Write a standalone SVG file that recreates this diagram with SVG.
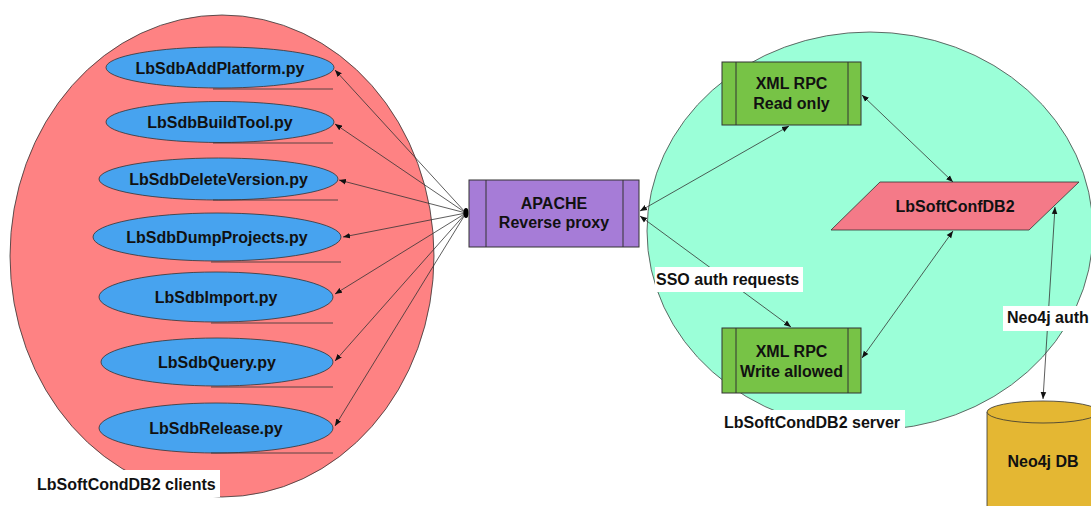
<svg xmlns="http://www.w3.org/2000/svg" width="1091" height="506" viewBox="0 0 1091 506">
<defs>
<style>
text{font-family:"Liberation Sans",Arial,sans-serif;font-weight:bold;font-size:16px;fill:#111;text-anchor:middle}
.lbl{text-anchor:start}
.client{fill:#47A3EF;stroke:#333;stroke-width:0.8}
.ul{stroke:#333;stroke-width:0.8}
.con{fill:none;stroke:#333;stroke-width:0.8}
.proc{stroke:#333;stroke-width:1}
.bg{fill:#fff}
</style>
<marker id="ah" viewBox="0 0 10 10" refX="10" refY="5" markerWidth="7" markerHeight="7" orient="auto-start-reverse" markerUnits="userSpaceOnUse">
<path d="M0,1 L10,5 L0,9 z" fill="#111"/>
</marker>
</defs>
<rect width="1091" height="506" fill="#fff"/>

<g id="clients-group">
<ellipse cx="222" cy="256" rx="212" ry="241" fill="#FE8283" stroke="#333" stroke-width="0.8"/>
<rect class="bg" x="31" y="470" width="189" height="27"/>
<text class="lbl" x="37" y="490">LbSoftCondDB2 clients</text>
</g>

<g id="server-group">
<ellipse cx="870" cy="231" rx="223" ry="199" fill="#9BFFD8" stroke="#444" stroke-width="0.8"/>
</g>

<g id="connectors">
<path class="con" d="M466,213 L335,70" marker-end="url(#ah)"/>
<path class="con" d="M466,213 L335,124" marker-end="url(#ah)"/>
<path class="con" d="M466,213 L339,180" marker-end="url(#ah)"/>
<path class="con" d="M466,213 L343,237" marker-end="url(#ah)"/>
<path class="con" d="M466,213 L335,294" marker-end="url(#ah)"/>
<path class="con" d="M466,213 L335,361" marker-end="url(#ah)"/>
<path class="con" d="M466,213 L335,426" marker-end="url(#ah)"/>
<ellipse cx="466" cy="213" rx="2.5" ry="5" fill="#000"/>
<path class="con" d="M640,211 L789,126" marker-start="url(#ah)" marker-end="url(#ah)"/>
<path class="con" d="M640,216 L791,327" marker-start="url(#ah)" marker-end="url(#ah)"/>
<path class="con" d="M862,95 L953,182" marker-start="url(#ah)" marker-end="url(#ah)"/>
<path class="con" d="M953,231 L862,358" marker-start="url(#ah)" marker-end="url(#ah)"/>
<path class="con" d="M1055,207 L1043,399" marker-start="url(#ah)" marker-end="url(#ah)"/>
<rect class="bg" x="655" y="267" width="148" height="25"/>
<text class="lbl" x="656" y="285">SSO auth requests</text>
<rect class="bg" x="1003" y="306" width="90" height="25"/>
<text class="lbl" x="1007" y="323">Neo4j auth</text>
</g>

<g id="n-addplatform">
<ellipse class="client" cx="220" cy="67.5" rx="114" ry="20.5"/>
<line class="ul" x1="213" y1="89" x2="333" y2="89"/>
<text x="220" y="74">LbSdbAddPlatform.py</text>
</g>
<g id="n-buildtool">
<ellipse class="client" cx="220" cy="122" rx="114" ry="20.5"/>
<line class="ul" x1="213" y1="143" x2="333" y2="143"/>
<text x="220" y="128">LbSdbBuildTool.py</text>
</g>
<g id="n-deleteversion">
<ellipse class="client" cx="218.5" cy="179" rx="119.5" ry="21"/>
<line class="ul" x1="213" y1="200" x2="338" y2="200"/>
<text x="218.5" y="185">LbSdbDeleteVersion.py</text>
</g>
<g id="n-dumpprojects">
<ellipse class="client" cx="217" cy="237" rx="124" ry="24"/>
<line class="ul" x1="211" y1="262" x2="341" y2="262"/>
<text x="217" y="243">LbSdbDumpProjects.py</text>
</g>
<g id="n-import">
<ellipse class="client" cx="216" cy="297" rx="117" ry="25"/>
<line class="ul" x1="211" y1="323" x2="333" y2="323"/>
<text x="216" y="303">LbSdbImport.py</text>
</g>
<g id="n-query">
<ellipse class="client" cx="217" cy="362" rx="116" ry="24"/>
<line class="ul" x1="211" y1="387" x2="333" y2="387"/>
<text x="217" y="368">LbSdbQuery.py</text>
</g>
<g id="n-release">
<ellipse class="client" cx="216" cy="428" rx="117" ry="25"/>
<line class="ul" x1="211" y1="453" x2="333" y2="453"/>
<text x="216" y="434">LbSdbRelease.py</text>
</g>

<g id="n-apache">
<rect class="proc" x="469" y="180" width="170" height="67" fill="#A67CD7"/>
<line class="proc" x1="486" y1="180" x2="486" y2="247"/>
<line class="proc" x1="623" y1="180" x2="623" y2="247"/>
<text x="554" y="209">APACHE</text>
<text x="554" y="228">Reverse proxy</text>
</g>

<g id="n-xmlrpc-ro">
<rect class="proc" x="722" y="62" width="139" height="63" fill="#77C346"/>
<line class="proc" x1="736" y1="62" x2="736" y2="125"/>
<line class="proc" x1="848" y1="62" x2="848" y2="125"/>
<text x="791.5" y="89">XML RPC</text>
<text x="791.5" y="109">Read only</text>
</g>

<g id="n-xmlrpc-rw">
<rect class="proc" x="722" y="328" width="139" height="65" fill="#77C346"/>
<line class="proc" x1="736" y1="328" x2="736" y2="393"/>
<line class="proc" x1="848" y1="328" x2="848" y2="393"/>
<text x="791.5" y="357">XML RPC</text>
<text x="791.5" y="377">Write allowed</text>
</g>

<g id="n-lbsoftconfdb2">
<polygon points="880,182 1079,182 1029,230 831,230" fill="#F47A88" stroke="#333" stroke-width="0.8"/>
<text x="955" y="212">LbSoftConfDB2</text>
</g>

<g id="n-server-label">
<rect class="bg" x="722" y="410" width="183" height="22"/>
<text class="lbl" x="724" y="428">LbSoftCondDB2 server</text>
</g>

<g id="n-neo4j">
<path d="M987,412 L987,510 L1099,510 L1099,412" fill="#E4B733" stroke="#333" stroke-width="0.8"/>
<ellipse cx="1043" cy="412" rx="56" ry="11" fill="#E4B733" stroke="#333" stroke-width="0.8"/>
<text x="1043" y="467">Neo4j DB</text>
</g>
</svg>
